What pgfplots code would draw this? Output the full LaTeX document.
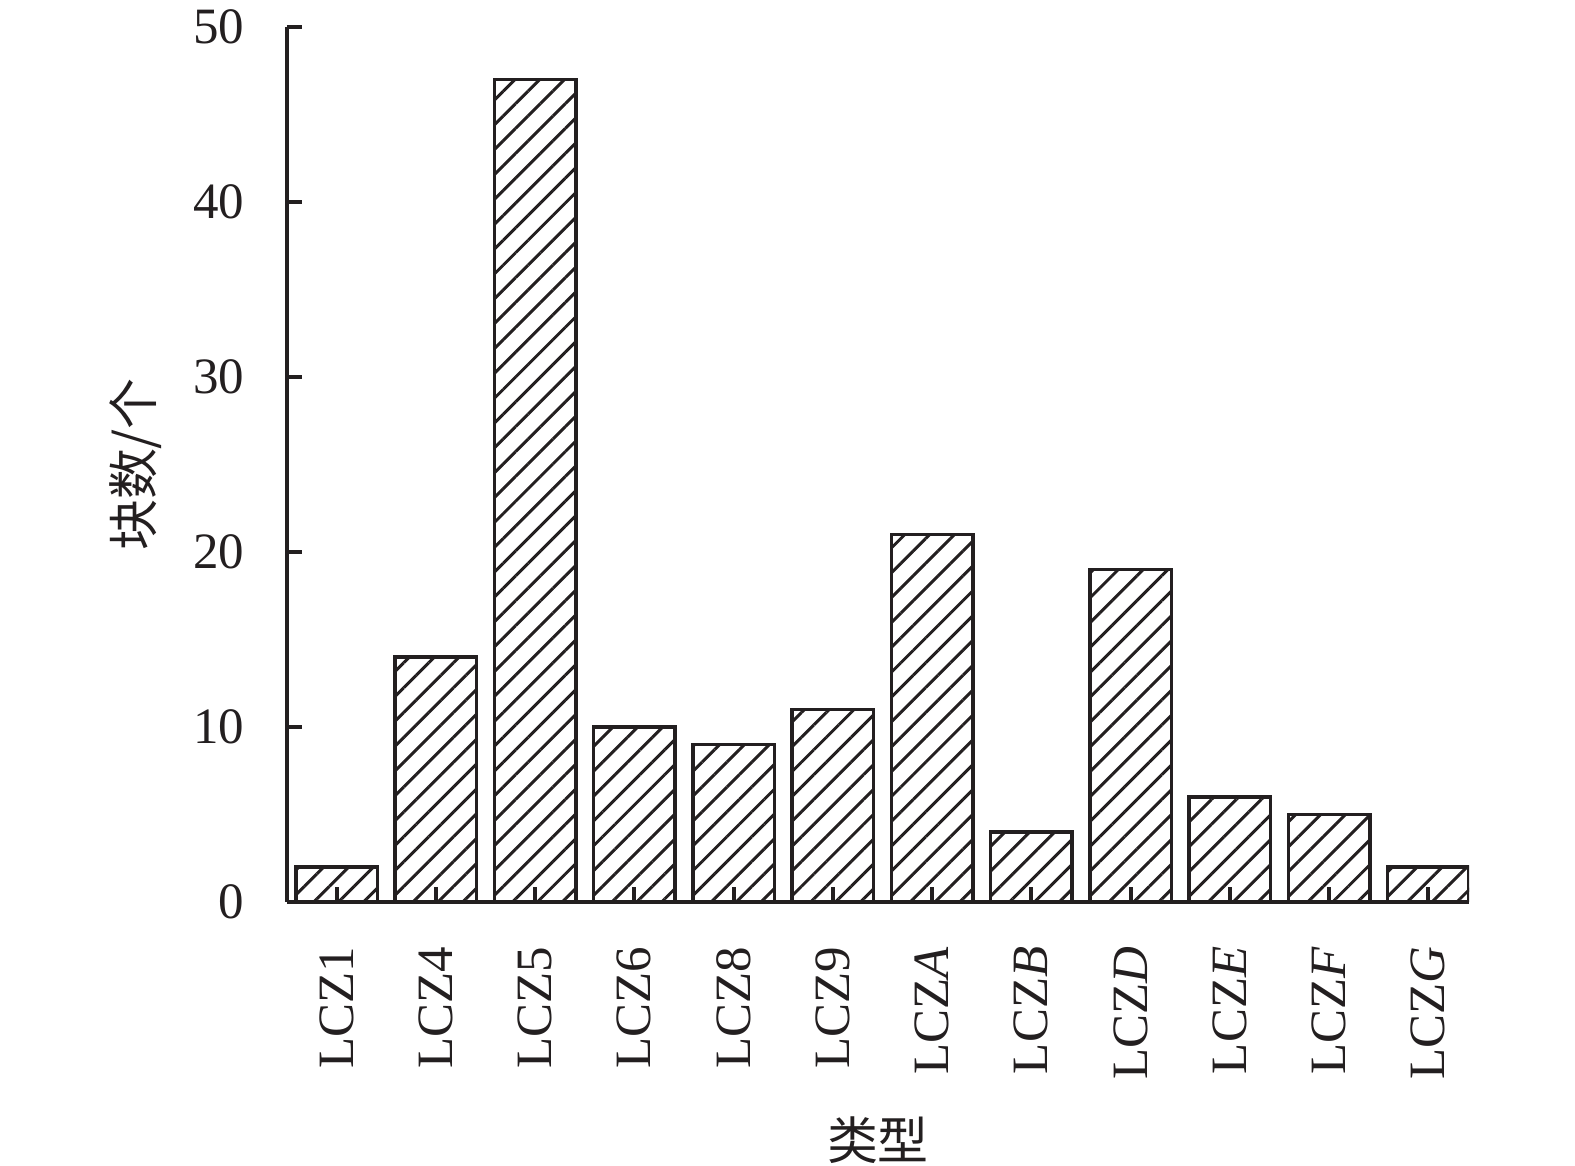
\documentclass[border=0pt]{standalone}
\usepackage{pgfplots}
\pgfplotsset{compat=1.18}
\usetikzlibrary{patterns.meta}
\usepackage{fontspec}
\setmainfont{Liberation Serif}
\newfontfamily\cjk{Noto Sans CJK SC}
\definecolor{ink}{RGB}{35,31,32}

\begin{document}
\begin{tikzpicture}[font=\fontsize{14.5}{17}\selectfont]
    \begin{axis}[
            at={(0,0)}, anchor=south west,
            scale only axis,
            width=11.82cm, height=8.75cm,
            ybar, bar width=0.82,
            xmin=-0.5, xmax=11.41,
            ymin=0, ymax=50,
            axis x line=bottom, axis y line=left,
            axis line style={-, ink, line width=1.1pt},
            tick align=inside,
            major tick length=0.15cm,
            tick style={ink, line width=1.1pt},
            xtick={0,...,11},
            xticklabels={LCZ1,LCZ4,LCZ5,LCZ6,LCZ8,LCZ9,LCZ\textit{A},LCZ\textit{B},LCZ\textit{D},LCZ\textit{E},LCZ\textit{F},LCZ\textit{G}},
            ytick={0,10,...,50},
            /pgf/number format/assume math mode=true,
            xticklabel style={rotate=90, anchor=east, inner sep=0pt, text=ink},
            xticklabel shift=0.44cm,
            yticklabel style={anchor=east, inner sep=0pt, text=ink},
            yticklabel shift=0.42cm,
            xlabel={\cjk 类型},
            xlabel style={at={(axis description cs:0.5,0)}, anchor=center, yshift=-2.38cm, text=ink},
            ylabel={\cjk 块数/个},
            ylabel style={at={(axis description cs:0,0.5)}, anchor=center, yshift=1.51cm, text=ink},
        ]
        % block counts per LCZ type
        \addplot[draw=ink, line width=1pt,
            pattern={Lines[angle=45, distance=5pt, line width=0.85pt]}, pattern color=ink]
            coordinates {
                (0,2) (1,14) (2,47) (3,10) (4,9) (5,11)
                (6,21) (7,4) (8,19) (9,6) (10,5) (11,2)
            };
    \end{axis}
    \pgfresetboundingbox
    \path[use as bounding box] (-2.87,-2.64) rectangle (12.88,9.02);
\end{tikzpicture}
\end{document}
